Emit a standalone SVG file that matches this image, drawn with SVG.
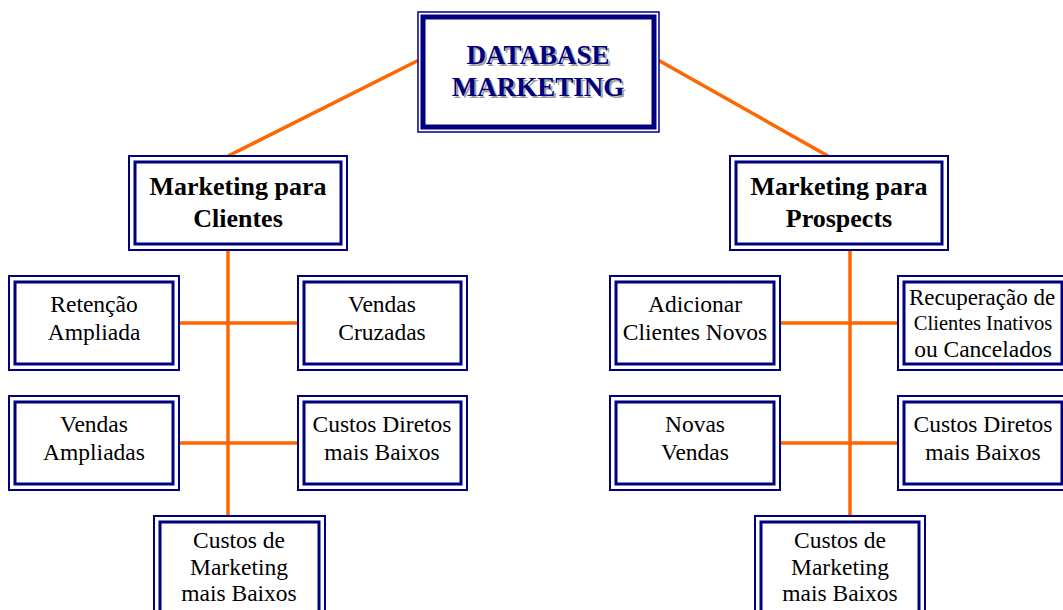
<svg xmlns="http://www.w3.org/2000/svg" width="1063" height="610" viewBox="0 0 1063 610">
  <style>
    .bg { fill: #ffffff; }
    .outer { fill: #ffffff; stroke: #000080; stroke-width: 2; }
    .inner { fill: none; stroke: #000080; stroke-width: 3; }
    .main-outer { fill: #ffffff; stroke: #000080; stroke-width: 1.5; }
    .main-inner { fill: none; stroke: #000080; stroke-width: 5; }
    .link { stroke: #ff6600; stroke-width: 3.5; fill: none; }
    .t { font-family: "Liberation Serif", "Times New Roman", serif; font-size: 23.5px; fill: #000000; text-anchor: middle; }
    .tb { font-family: "Liberation Serif", "Times New Roman", serif; font-size: 26px; font-weight: bold; fill: #000000; text-anchor: middle; }
    .title { font-family: "Liberation Serif", "Times New Roman", serif; font-size: 27px; font-weight: bold; fill: #000080; text-anchor: middle; }
    .shadow { font-family: "Liberation Serif", "Times New Roman", serif; font-size: 27px; font-weight: bold; fill: #a0a0a0; text-anchor: middle; }
  </style>
  <rect class="bg" x="0" y="0" width="1063" height="610"/>

  <!-- connectors -->
  <g id="connectors">
    <line class="link" x1="419" y1="60" x2="228" y2="156"/>
    <line class="link" x1="658" y1="60" x2="828" y2="156"/>
    <line class="link" x1="228" y1="250" x2="228" y2="516"/>
    <line class="link" x1="180" y1="323" x2="298" y2="323"/>
    <line class="link" x1="180" y1="443" x2="298" y2="443"/>
    <line class="link" x1="850" y1="250" x2="850" y2="516"/>
    <line class="link" x1="780" y1="323" x2="898" y2="323"/>
    <line class="link" x1="780" y1="443" x2="898" y2="443"/>
  </g>

  <!-- root node -->
  <g id="database-marketing">
    <rect class="main-outer" x="418" y="12" width="241" height="120"/>
    <rect class="main-inner" x="423" y="17" width="231" height="110"/>
    <text class="shadow" x="540" y="66">DATABASE</text>
    <text class="shadow" x="540" y="98">MARKETING</text>
    <text class="title" x="538" y="64">DATABASE</text>
    <text class="title" x="538" y="96">MARKETING</text>
  </g>

  <!-- second level -->
  <g id="marketing-clientes">
    <rect class="outer" x="129" y="156" width="218" height="94"/>
    <rect class="inner" x="135" y="162" width="206" height="82"/>
    <text class="tb" x="238" y="195">Marketing para</text>
    <text class="tb" x="238" y="227">Clientes</text>
  </g>
  <g id="marketing-prospects">
    <rect class="outer" x="730" y="156" width="218" height="94"/>
    <rect class="inner" x="736" y="162" width="206" height="82"/>
    <text class="tb" x="839" y="195">Marketing para</text>
    <text class="tb" x="839" y="227">Prospects</text>
  </g>

  <!-- left branch -->
  <g id="retencao-ampliada">
    <rect class="outer" x="9" y="276" width="170" height="94"/>
    <rect class="inner" x="15" y="282" width="158" height="82"/>
    <text class="t" x="94" y="312">Retenção</text>
    <text class="t" x="94" y="340">Ampliada</text>
  </g>
  <g id="vendas-cruzadas">
    <rect class="outer" x="298" y="276" width="169" height="94"/>
    <rect class="inner" x="304" y="282" width="157" height="82"/>
    <text class="t" x="382" y="312">Vendas</text>
    <text class="t" x="382" y="340">Cruzadas</text>
  </g>
  <g id="vendas-ampliadas">
    <rect class="outer" x="9" y="396" width="170" height="94"/>
    <rect class="inner" x="15" y="402" width="158" height="82"/>
    <text class="t" x="94" y="432">Vendas</text>
    <text class="t" x="94" y="460">Ampliadas</text>
  </g>
  <g id="custos-diretos-clientes">
    <rect class="outer" x="298" y="396" width="169" height="94"/>
    <rect class="inner" x="304" y="402" width="157" height="82"/>
    <text class="t" x="382" y="432">Custos Diretos</text>
    <text class="t" x="382" y="460">mais Baixos</text>
  </g>
  <g id="custos-marketing-clientes">
    <rect class="outer" x="154" y="516" width="171" height="100"/>
    <rect class="inner" x="160" y="522" width="159" height="90"/>
    <text class="t" x="239" y="548">Custos de</text>
    <text class="t" x="239" y="575">Marketing</text>
    <text class="t" x="239" y="601">mais Baixos</text>
  </g>

  <!-- right branch -->
  <g id="adicionar-clientes">
    <rect class="outer" x="610" y="276" width="170" height="94"/>
    <rect class="inner" x="616" y="282" width="158" height="82"/>
    <text class="t" x="695" y="312">Adicionar</text>
    <text class="t" x="695" y="340">Clientes Novos</text>
  </g>
  <g id="recuperacao-clientes">
    <rect class="outer" x="898" y="276" width="170" height="94"/>
    <rect class="inner" x="904" y="282" width="158" height="82"/>
    <text class="t" x="982" y="305" style="font-size:23px">Recuperação de</text>
    <text class="t" x="983" y="330" style="font-size:20.5px">Clientes Inativos</text>
    <text class="t" x="983" y="357">ou Cancelados</text>
  </g>
  <g id="novas-vendas">
    <rect class="outer" x="610" y="396" width="170" height="94"/>
    <rect class="inner" x="616" y="402" width="158" height="82"/>
    <text class="t" x="695" y="432">Novas</text>
    <text class="t" x="695" y="460">Vendas</text>
  </g>
  <g id="custos-diretos-prospects">
    <rect class="outer" x="898" y="396" width="170" height="94"/>
    <rect class="inner" x="904" y="402" width="158" height="82"/>
    <text class="t" x="983" y="432">Custos Diretos</text>
    <text class="t" x="983" y="460">mais Baixos</text>
  </g>
  <g id="custos-marketing-prospects">
    <rect class="outer" x="755" y="516" width="170" height="100"/>
    <rect class="inner" x="761" y="522" width="158" height="90"/>
    <text class="t" x="840" y="548">Custos de</text>
    <text class="t" x="840" y="575">Marketing</text>
    <text class="t" x="840" y="601">mais Baixos</text>
  </g>
</svg>
